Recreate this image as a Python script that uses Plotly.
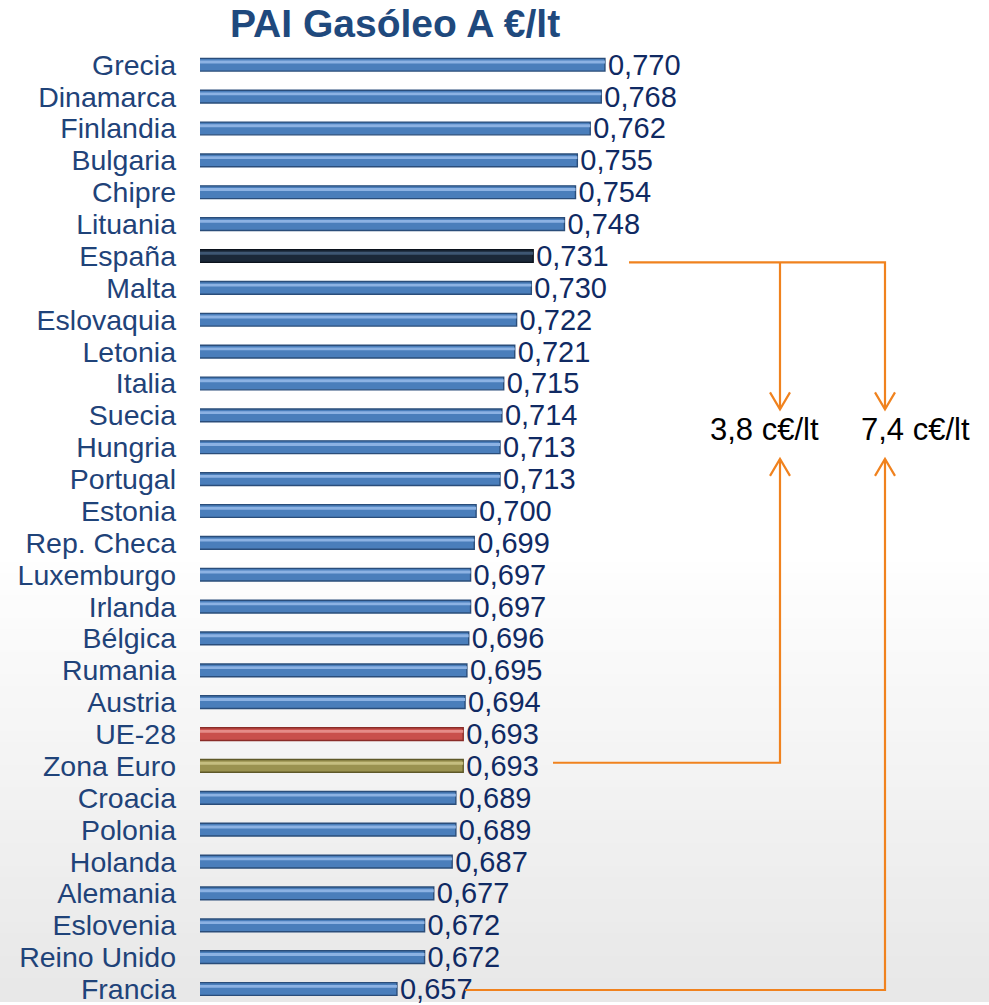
"""
PAI Gasóleo A €/lt - horizontal bar ranking with spread callouts.
"""

import plotly.graph_objects as go

# Data (top to bottom)
countries = [
    "Grecia", "Dinamarca", "Finlandia", "Bulgaria", "Chipre", "Lituania",
    "España", "Malta", "Eslovaquia", "Letonia", "Italia", "Suecia",
    "Hungria", "Portugal", "Estonia", "Rep. Checa", "Luxemburgo", "Irlanda",
    "Bélgica", "Rumania", "Austria", "UE-28", "Zona Euro", "Croacia",
    "Polonia", "Holanda", "Alemania", "Eslovenia", "Reino Unido", "Francia",
]
prices = [
    0.770, 0.768, 0.762, 0.755, 0.754, 0.748,
    0.731, 0.730, 0.722, 0.721, 0.715, 0.714,
    0.713, 0.713, 0.700, 0.699, 0.697, 0.697,
    0.696, 0.695, 0.694, 0.693, 0.693, 0.689,
    0.689, 0.687, 0.677, 0.672, 0.672, 0.657,
]

FONT = "Liberation Sans, Arial, sans-serif"
ORANGE = "#f0821e"
LABEL_BLUE = "#1f4379"
VALUE_BLUE = "#102a63"

# (fill, outline, highlight)
_DEFAULT = ("#4a7ebb", "#2a4d7a", "#8cb2e3")
_SPECIAL = {
    "España": ("#1b2838", "#0b121c", "#3e5672"),
    "UE-28": ("#c9504b", "#8a2c28", "#e58c87"),
    "Zona Euro": ("#9a9250", "#5e5828", "#c5be80"),
}
fills = [_SPECIAL.get(c, _DEFAULT)[0] for c in countries]
edges = [_SPECIAL.get(c, _DEFAULT)[1] for c in countries]
glows = [_SPECIAL.get(c, _DEFAULT)[2] for c in countries]

X0 = 0.55                      # value at the bars' left edge
PX_PER_UNIT = 1840.7
W, H = 989, 1005

fig = go.Figure([
    go.Bar(y=countries, x=prices, orientation="h", width=0.4,
           marker=dict(color=fills, line=dict(color=edges, width=1.4)),
           texttemplate="%{x:.3f}", textposition="outside",
           constraintext="none", cliponaxis=False,
           textfont=dict(family=FONT, size=29, color=VALUE_BLUE),
           hoverinfo="skip"),
    go.Bar(y=countries, x=prices, orientation="h", width=0.09, offset=-0.13,
           marker=dict(color=glows, line=dict(width=0)),
           hoverinfo="skip"),
])

# soft grey gradient towards the bottom
bands = 40
top = 0.45
for k in range(bands):
    t = k / (bands - 1)
    g = int(255 - 23 * t)
    y_top = top - top * k / bands
    fig.add_shape(type="rect", xref="paper", yref="paper", layer="below",
                  x0=0, x1=1, y0=y_top - top / bands - 0.001, y1=y_top,
                  fillcolor=f"rgb({g},{g},{g})", line=dict(width=0))


def xv(px):
    """pixel column -> value axis"""
    return X0 + (px - 200) / PX_PER_UNIT


i_esp = countries.index("España")
i_euro = countries.index("Zona Euro")
i_fra = countries.index("Francia")
p_esp = prices[i_esp]
p_euro = prices[i_euro]
p_fra = prices[i_fra]

col_a, col_b = xv(780), xv(885)
tip_down, tip_up, text_row = 10.81, 12.37, 11.45
wing_x, wing_y = 10 / PX_PER_UNIT, 0.53

line = dict(color=ORANGE, width=2.2)
paths = [
    # from España
    f"M{xv(629)},{i_esp + 0.2} L{col_b},{i_esp + 0.2} L{col_b},{tip_down}",
    f"M{col_a},{i_esp + 0.2} L{col_a},{tip_down}",
    f"M{col_a - wing_x},{tip_down - wing_y} L{col_a},{tip_down} L{col_a + wing_x},{tip_down - wing_y}",
    f"M{col_b - wing_x},{tip_down - wing_y} L{col_b},{tip_down} L{col_b + wing_x},{tip_down - wing_y}",
    # from Zona Euro
    f"M{xv(553)},{i_euro - 0.1} L{col_a},{i_euro - 0.1} L{col_a},{tip_up}",
    f"M{col_a - wing_x},{tip_up + wing_y} L{col_a},{tip_up} L{col_a + wing_x},{tip_up + wing_y}",
    # from Francia
    f"M{xv(465)},{i_fra + 0.03} L{col_b},{i_fra + 0.03} L{col_b},{tip_up}",
    f"M{col_b - wing_x},{tip_up + wing_y} L{col_b},{tip_up} L{col_b + wing_x},{tip_up + wing_y}",
]
for p in paths:
    fig.add_shape(type="path", xref="x", yref="y", path=p, line=line)

diff_euro = round((p_esp - p_euro) * 100, 1)
diff_fra = round((p_esp - p_fra) * 100, 1)
for xc, d in [(xv(764), diff_euro), (xv(915), diff_fra)]:
    fig.add_annotation(x=xc, y=text_row, xref="x", yref="y", showarrow=False,
                       text=f"{d:.1f}".replace(".", ",") + " c€/lt",
                       font=dict(family=FONT, size=31, color="#000000"))

fig.add_annotation(x=395 / W, y=1 - 24 / H, xref="paper", yref="paper",
                   xanchor="center", yanchor="middle",
                   showarrow=False, text="<b>PAI Gasóleo A €/lt</b>",
                   font=dict(family=FONT, size=39, color="#1f497d"))

fig.update_layout(
    width=W, height=H,
    barmode="overlay",
    separators=",.",
    showlegend=False,
    paper_bgcolor="#ffffff",
    plot_bgcolor="rgba(0,0,0,0)",
    margin=dict(l=0, r=0, t=0, b=0),
    font=dict(family=FONT),
)
fig.update_xaxes(domain=[200 / W, 1], range=[X0, X0 + (W - 200) / PX_PER_UNIT],
                 visible=False, showgrid=False, zeroline=False)
fig.update_yaxes(domain=[0, 1], range=[29.375, -2.031], showgrid=False,
                 zeroline=False, showline=False, ticks="",
                 tickmode="array", tickvals=countries, ticktext=countries,
                 ticklabelstandoff=23,
                 tickfont=dict(family=FONT, size=28.5, color=LABEL_BLUE))

fig.write_html("out.html", config={"displayModeBar": False},
               post_script="document.body.style.margin='0';")
